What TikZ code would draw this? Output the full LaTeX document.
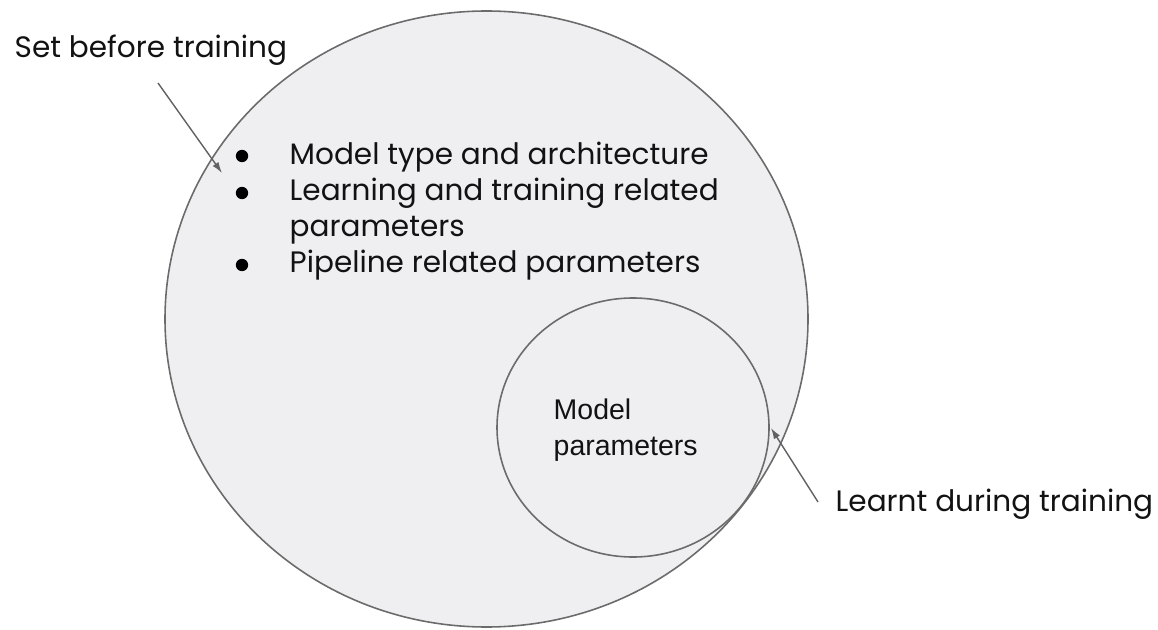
\documentclass[tikz,border=0pt]{standalone}
\usepackage{fontspec}
\setmainfont{Poppins}
\newfontfamily\arialfont{Liberation Sans}
\usetikzlibrary{arrows.meta}

\begin{document}
\begin{tikzpicture}[
  set/.style={draw=black!58,line width=0.45pt,fill=setfill},
  lbl/.style={inner sep=0pt,anchor=base west,text=black!93},
  pointer/.style={-{Latex[length=1.1mm,width=0.7mm]},draw=black!62,line width=0.4pt}]
\definecolor{setfill}{RGB}{239,238,241}
\useasboundingbox (0,0) rectangle (11.58,6.29);
\fontsize{8.4}{10.3}\selectfont

% --- outer set: everything fixed before training ---
\draw[set] (4.865,3.10) ellipse [x radius=3.215,y radius=3.08];
% (base of a multi-line node sits on its last line)
\node[lbl,font=\fontsize{8.4}{10.3}\selectfont,align=left] (hyper) at (2.89,3.56)
  {Model type and architecture\\Learning and training related\\parameters\\Pipeline related parameters};
\foreach \y in {4.73,4.36,3.64}{\fill[black] (2.42,\y) circle (0.062);}

% --- inner set: learnt values ---
\draw[set] (6.33,2.015) ellipse [x radius=1.36,y radius=1.295];
\node[lbl,font=\arialfont\fontsize{8.1}{10}\selectfont,align=left] (params) at (5.53,1.74)
  {Model\\parameters};

% --- callouts ---
\node[lbl] (setlbl) at (0.14,5.71) {Set before training};
\coordinate (setFrom) at (1.58,5.46);
\coordinate (setTip) at (2.22,4.56);
\draw[pointer] (setFrom) -- (setTip);

\node[lbl] (learnt) at (8.35,1.18) {Learnt during training};
\coordinate (learntFrom) at (8.18,1.27);
\coordinate (learntTip) at (7.71,2.01);
\draw[pointer] (learntFrom) -- (learntTip);
\end{tikzpicture}
\end{document}
